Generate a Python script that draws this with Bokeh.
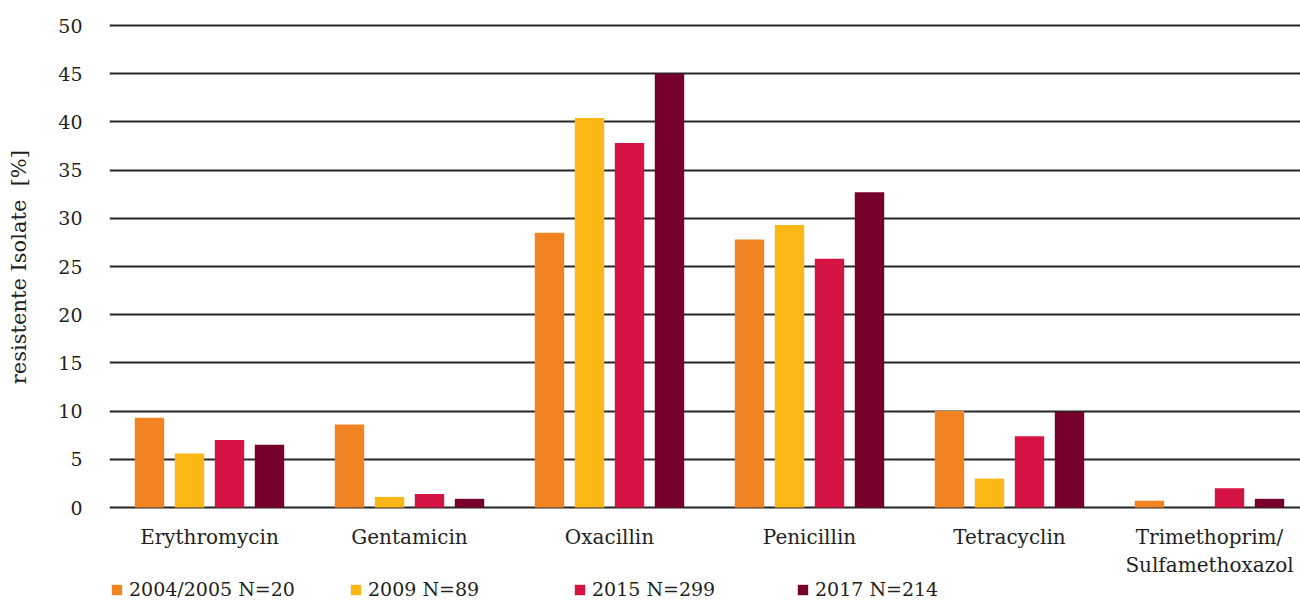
import numpy as np
from bokeh.plotting import figure
from bokeh.models import Range1d, FixedTicker, Legend, LegendItem, ColumnDataSource
from bokeh.embed import file_html
from bokeh.resources import INLINE

categories = ["Erythromycin", "Gentamicin", "Oxacillin", "Penicillin", "Tetracyclin",
              "Trimethoprim/\nSulfamethoxazol"]
series_names = ["2004/2005 N=20", "2009 N=89", "2015 N=299", "2017 N=214"]
v2004 = [9.3, 8.6, 28.5, 27.8, 10.0, 0.7]
v2009 = [5.6, 1.1, 40.4, 29.3, 3.0, 0.0]
v2015 = [7.0, 1.4, 37.8, 25.8, 7.4, 2.0]
v2017 = [6.5, 0.9, 45.0, 32.7, 9.9, 0.9]
y_ticks = [0, 5, 10, 15, 20, 25, 30, 35, 40, 45, 50]
y_title = "resistente Isolate\u00a0 [%]"

series_values = [v2004, v2009, v2015, v2017]
colors = ["#F28322", "#FBB716", "#D61444", "#75002B"]
offsets = [-0.3, -0.1, 0.1, 0.3]
legend_x = [1, 240, 464, 687]

FONT = "DejaVu Serif"
TXT = "#231F20"

p = figure(width=1300, height=600, output_backend="svg", toolbar_location=None,
           x_range=Range1d(-0.5, 5.455), y_range=Range1d(-9.647, 50.52),
           min_border_left=109, min_border_right=0, min_border_top=20, min_border_bottom=0)
p.outline_line_color = None
p.background_fill_color = "white"
p.border_fill_color = "white"

idx = np.arange(len(categories))
renderers = []
for vals, col, off in zip(series_values, colors, offsets):
    src = ColumnDataSource(dict(x=idx + off, top=vals))
    r = p.vbar(x="x", top="top", bottom=0, width=0.147, source=src,
               fill_color=col, line_color=None)
    renderers.append(r)

# axes
p.xaxis.ticker = FixedTicker(ticks=list(idx))
p.xaxis.major_label_overrides = {int(i): c for i, c in zip(idx, categories)}
p.xaxis.fixed_location = 0
p.yaxis.ticker = FixedTicker(ticks=y_ticks)
for ax in [p.xaxis[0], p.yaxis[0]]:
    ax.axis_line_color = None
    ax.major_tick_line_color = None
    ax.minor_tick_line_color = None
    ax.major_tick_in = 0
    ax.major_tick_out = 0
    ax.minor_tick_in = 0
    ax.minor_tick_out = 0
    ax.major_label_text_font = FONT
    ax.major_label_text_color = TXT
p.xaxis.major_label_text_font_size = "20px"
p.yaxis.major_label_text_font_size = "19px"
p.xaxis.major_label_standoff = 17
p.yaxis.major_label_standoff = 27
# leading no-break spaces move the centred title up to the middle of the 0-50 scale
p.yaxis.axis_label = "\u00a0" * 13 + y_title
p.yaxis.axis_label_text_font = FONT
p.yaxis.axis_label_text_font_size = "21px"
p.yaxis.axis_label_text_font_style = "normal"
p.yaxis.axis_label_text_color = TXT
p.yaxis.axis_label_standoff = 24

p.xgrid.grid_line_color = None
p.ygrid.ticker = FixedTicker(ticks=y_ticks)
p.ygrid.grid_line_color = "#262626"
p.ygrid.grid_line_width = 1.8

for name, r, lx in zip(series_names, renderers, legend_x):
    lg = Legend(items=[LegendItem(label=name, renderers=[r])], location=(lx, 0),
                orientation="horizontal", padding=0, margin=0, spacing=0,
                glyph_width=13, glyph_height=13, label_standoff=6,
                border_line_color=None, background_fill_alpha=0,
                label_text_font=FONT, label_text_font_size="19px",
                label_text_color=TXT)
    p.add_layout(lg, "center")

open("out.html", "w").write(file_html(p, INLINE))
